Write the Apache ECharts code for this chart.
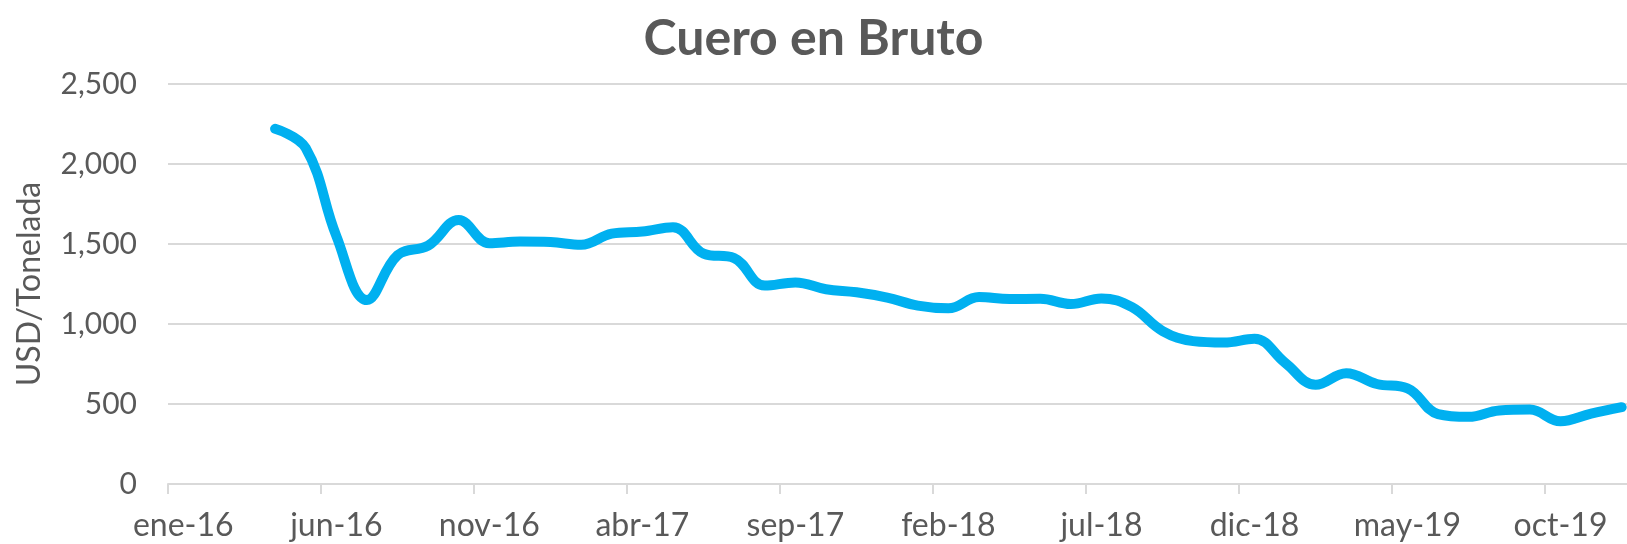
<!DOCTYPE html>
<html>
<head>
<meta charset="utf-8">
<script src="https://cdn.jsdelivr.net/npm/echarts@6/dist/echarts.min.js"></script>
<style>
  html, body { margin: 0; padding: 0; background: #fff; }
  #chart { width: 1627px; height: 544px; }
</style>
</head>
<body>
<div id="chart"></div>
<script>
// meses (ene-16 .. dic-19)
const months = [
  'ene-16', 'feb-16', 'mar-16', 'abr-16', 'may-16', 'jun-16', 'jul-16', 'ago-16', 'sep-16', 'oct-16', 'nov-16', 'dic-16',
  'ene-17', 'feb-17', 'mar-17', 'abr-17', 'may-17', 'jun-17', 'jul-17', 'ago-17', 'sep-17', 'oct-17', 'nov-17', 'dic-17',
  'ene-18', 'feb-18', 'mar-18', 'abr-18', 'may-18', 'jun-18', 'jul-18', 'ago-18', 'sep-18', 'oct-18', 'nov-18', 'dic-18',
  'ene-19', 'feb-19', 'mar-19', 'abr-19', 'may-19', 'jun-19', 'jul-19', 'ago-19', 'sep-19', 'oct-19', 'nov-19', 'dic-19',
]
// USD/Tonelada
const prices = [
  null, null, null, 2220, 2100, 1550, 1150, 1430, 1490, 1650, 1505, 1515,
  1512, 1495, 1565, 1578, 1605, 1440, 1412, 1240, 1260, 1217, 1198, 1165,
  1115, 1098, 1168, 1156, 1158, 1125, 1160, 1105, 956, 893, 884, 908,
  758, 620, 692, 625, 598, 437, 420, 460, 465, 392, 440, 480,
]
const yTicks = [0, 500, 1000, 1500, 2000, 2500]

const textColor = '#595959'
const gridColor = '#d9d9d9'
const font = 'Lato, "Open Sans", sans-serif'

const myChart = echarts.init(document.getElementById('chart'))

const option = {
  animation: false,
  title: {
    text: 'Cuero en Bruto',
    left: 'center',
    top: 9,
    textStyle: { fontFamily: font, fontSize: 50, fontWeight: 'bold', color: textColor },
  },
  grid: {
    left: 168,
    top: 84,
    height: 400,
    width: 1469,
    outerBoundsMode: 'none',
  },
  xAxis: {
    type: 'category',
    data: months,
    boundaryGap: true,
    axisLine: { lineStyle: { color: gridColor, width: 2 } },
    axisTick: { show: true, interval: 4, length: 10, lineStyle: { color: gridColor, width: 2 } },
    axisLabel: { interval: 4, margin: 26, fontFamily: font, fontSize: 32, color: textColor },
  },
  yAxis: {
    type: 'value',
    min: yTicks[0],
    max: yTicks[yTicks.length - 1],
    interval: 500,
    name: 'USD/Tonelada',
    nameLocation: 'middle',
    nameRotate: 90,
    nameGap: 122,
    nameTextStyle: { fontFamily: font, fontSize: 32, color: textColor },
    axisLine: { show: false },
    axisTick: { show: false },
    axisLabel: {
      margin: 31,
      fontFamily: font,
      fontSize: 30,
      color: textColor,
      formatter: v => v.toLocaleString('en-US'),
    },
    splitLine: { lineStyle: { color: gridColor, width: 2 } },
  },
  series: [
    {
      type: 'line',
      data: prices,
      smooth: 0.4,
      showSymbol: false,
      lineStyle: { color: '#00b0f0', width: 10, cap: 'round', join: 'round' },
    },
  ],
}

option && myChart.setOption(option)
</script>
</body>
</html>
